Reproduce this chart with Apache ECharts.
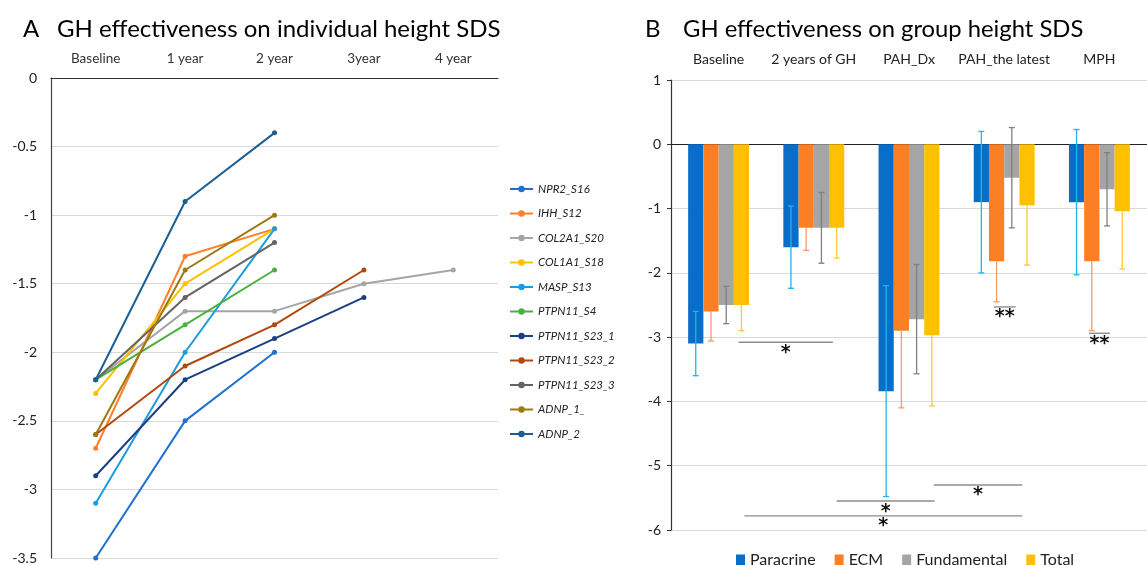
<!DOCTYPE html>
<html>
<head>
<meta charset="utf-8">
<title>GH effectiveness</title>
<script src="https://cdn.jsdelivr.net/npm/echarts@6/dist/echarts.min.js"></script>
<style>
html, body {
	margin: 0;
	padding: 0;
	background: #fff;
}
#main {
	width: 1147px;
	height: 565px;
}
</style>
</head>
<body>
<div id="main"></div>
<script type="text/javascript">
    // panel A: individual height SDS
    var yearList = ['Baseline', '1 year', '2 year', '3year', '4 year'];
    var npr2_s16 = [-3.5, -2.5, -2.0, null, null];
    var ihh_s12 = [-2.7, -1.3, -1.1, null, null];
    var col2a1_s20 = [-2.2, -1.7, -1.7, -1.5, -1.4];
    var col1a1_s18 = [-2.3, -1.5, -1.1, null, null];
    var masp_s13 = [-3.1, -2.0, -1.1, null, null];
    var ptpn11_s4 = [-2.2, -1.8, -1.4, null, null];
    var ptpn11_s23_1 = [-2.9, -2.2, -1.9, -1.6, null];
    var ptpn11_s23_2 = [-2.6, -2.1, -1.8, -1.4, null];
    var ptpn11_s23_3 = [-2.2, -1.6, -1.2, null, null];
    var adnp_1 = [-2.6, -1.4, -1.0, null, null];
    var adnp_2 = [-2.2, -0.9, -0.4, null, null];

    var lineNames = ['NPR2_S16', 'IHH_S12', 'COL2A1_S20', 'COL1A1_S18', 'MASP_S13', 'PTPN11_S4',
        'PTPN11_S23_1', 'PTPN11_S23_2', 'PTPN11_S23_3', 'ADNP_1_', 'ADNP_2'];
    var lineData = [npr2_s16, ihh_s12, col2a1_s20, col1a1_s18, masp_s13, ptpn11_s4,
        ptpn11_s23_1, ptpn11_s23_2, ptpn11_s23_3, adnp_1, adnp_2];
    var lineColors = ['#1F70CF', '#FF7F2A', '#A5A5A5', '#FFC000', '#1C9BE0', '#4CB040',
        '#1B3F80', '#B0490F', '#646464', '#A07810', '#1A5E93'];

    // panel B: group height SDS (mean and error)
    var groupList = ['Baseline', '2 years of GH', 'PAH_Dx', 'PAH_the latest', 'MPH'];
    var paracrine = [-3.1, -1.6, -3.84, -0.9, -0.9];
    var paracrineErr = [0.5, 0.64, 1.64, 1.1, 1.13];
    var ecm = [-2.6, -1.3, -2.9, -1.82, -1.82];
    var ecmErr = [0.46, 0.35, 1.2, 0.63, 1.08];
    var fundamental = [-2.5, -1.3, -2.72, -0.52, -0.7];
    var fundamentalErr = [0.29, 0.55, 0.85, 0.78, 0.57];
    var total = [-2.5, -1.3, -2.97, -0.95, -1.04];
    var totalErr = [0.4, 0.47, 1.1, 0.93, 0.9];

    // significance marks: [from, to, level, text] in category units
    var sigMarks = [
        [0.21, 1.2, -3.08, '*'],
        [2.89, 3.12, -2.53, '**'],
        [3.89, 4.11, -2.94, '**'],
        [1.24, 2.27, -5.55, '*'],
        [2.26, 3.19, -5.3, '*'],
        [0.27, 3.19, -5.78, '*']
    ];

    var fontName = 'Lato, "Open Sans", sans-serif';
    var barColors = ['#0A6DC8', '#FD7F23', '#A5A5A5', '#FFC000'];
    var errColors = ['#1EB4EE', '#F89A68', '#808080', '#FFC930'];

    var myChart = echarts.init(document.getElementById('main'));

    function errorRender(both, color) {
        return function (params, api) {
            var x = api.value(0);
            var v = api.value(1);
            var e = api.value(2);
            var top = api.coord([x, both ? v + e : v]);
            var bot = api.coord([x, v - e]);
            var style = {stroke: color, lineWidth: 1.3};
            var kids = [
                {type: 'line', shape: {x1: top[0], y1: top[1], x2: bot[0], y2: bot[1]}, style: style},
                {type: 'line', shape: {x1: bot[0] - 3, y1: bot[1], x2: bot[0] + 3, y2: bot[1]}, style: style}
            ];
            if (both) {
                kids.push({type: 'line', shape: {x1: top[0] - 3, y1: top[1], x2: top[0] + 3, y2: top[1]}, style: style});
            }
            return {type: 'group', children: kids};
        };
    }

    function errorData(vals, errs, k) {
        var out = [];
        for (var i = 0; i < vals.length; i++) {
            out.push([i + (k - 1.5) * 0.16, vals[i], errs[i]]);
        }
        return out;
    }

    function sigRender(params, api) {
        var a = api.coord([api.value(0), api.value(2)]);
        var b = api.coord([api.value(1), api.value(2)]);
        var txt = sigMarks[params.dataIndex][3];
        return {
            type: 'group',
            children: [
                {type: 'line', shape: {x1: a[0], y1: a[1], x2: b[0], y2: b[1]},
                    style: {stroke: '#8C8C8C', lineWidth: 1.4}},
                {type: 'text', x: (a[0] + b[0]) / 2, y: a[1] + 1,
                    style: {text: txt, fill: '#111', font: 'bold 19px "DejaVu Sans"',
                        align: 'center', verticalAlign: 'top'}}
            ]
        };
    }

    var series = [];
    for (var s = 0; s < lineNames.length; s++) {
        series.push({
            name: lineNames[s],
            type: 'line',
            xAxisIndex: 0,
            yAxisIndex: 0,
            data: lineData[s],
            symbol: 'circle',
            symbolSize: 5,
            connectNulls: false,
            itemStyle: {color: lineColors[s]},
            lineStyle: {color: lineColors[s], width: 2}
        });
    }

    var barNames = ['Paracrine', 'ECM', 'Fundamental', 'Total'];
    var barData = [paracrine, ecm, fundamental, total];
    var errData = [paracrineErr, ecmErr, fundamentalErr, totalErr];
    var errBoth = [true, false, true, false];
    for (var k = 0; k < 4; k++) {
        series.push({
            name: barNames[k],
            type: 'bar',
            xAxisIndex: 1,
            yAxisIndex: 1,
            data: barData[k],
            barWidth: '16%',
            barGap: '0%',
            itemStyle: {color: barColors[k]}
        });
    }
    for (var k = 0; k < 4; k++) {
        series.push({
            name: barNames[k] + ' error',
            type: 'custom',
            xAxisIndex: 3,
            yAxisIndex: 1,
            z: 5,
            renderItem: errorRender(errBoth[k], errColors[k]),
            data: errorData(barData[k], errData[k], k)
        });
    }
    series.push({
        name: 'significance',
        type: 'custom',
        xAxisIndex: 3,
        yAxisIndex: 1,
        z: 6,
        renderItem: sigRender,
        data: sigMarks.map(function (m) { return [m[0], m[1], m[2]]; })
    });

    var titleStyle = {fontSize: 24, fontWeight: 'normal', color: '#000', fontFamily: fontName};

    option = {
        animation: false,
        textStyle: {fontFamily: fontName},
        title: [
            {text: 'A', left: 23, top: 17, padding: 0, textStyle: titleStyle},
            {text: 'GH effectiveness on individual height SDS', left: 57, top: 17, padding: 0, textStyle: titleStyle},
            {text: 'B', left: 645, top: 17, padding: 0, textStyle: titleStyle},
            {text: 'GH effectiveness on group height SDS', left: 683, top: 17, padding: 0,
                textStyle: {fontSize: 23.8, fontWeight: 'normal', color: '#000', fontFamily: fontName}}
        ],
        legend: [{
            data: lineNames,
            orient: 'vertical',
            left: 504,
            top: 178,
            itemWidth: 23,
            itemHeight: 8,
            itemGap: 12.5,
            textStyle: {fontSize: 11.5, fontStyle: 'italic', color: '#222', fontFamily: fontName}
        }, {
            data: barNames,
            left: 731,
            top: 547,
            icon: 'rect',
            itemWidth: 9,
            itemHeight: 11,
            itemGap: 19,
            textStyle: {fontSize: 16, color: '#222', fontFamily: fontName}
        }],
        grid: [
            {left: 51, top: 78, width: 447, height: 490},
            {left: 671, top: 80, width: 483, height: 450}
        ],
        xAxis: [{
            type: 'category',
            gridIndex: 0,
            position: 'top',
            data: yearList,
            boundaryGap: true,
            axisLine: {onZero: false, lineStyle: {color: '#333', width: 1.2}},
            axisTick: {alignWithLabel: true, length: 4, lineStyle: {color: '#333'}},
            axisLabel: {interval: 0, fontSize: 13.5, color: '#333', margin: 12}
        }, {
            type: 'category',
            gridIndex: 1,
            position: 'top',
            data: groupList,
            boundaryGap: true,
            axisLine: {onZero: true, lineStyle: {color: '#222', width: 1.2}},
            axisTick: {alignWithLabel: true, length: 5, lineStyle: {color: '#222'}},
            axisLabel: {show: false}
        }, {
            type: 'category',
            gridIndex: 1,
            position: 'top',
            data: groupList,
            boundaryGap: true,
            axisLine: {show: false, onZero: false},
            axisTick: {show: false},
            axisLabel: {interval: 0, fontSize: 14, color: '#222', margin: 14}
        }, {
            type: 'value',
            gridIndex: 1,
            min: -0.5,
            max: 4.5,
            show: false
        }],
        yAxis: [{
            type: 'value',
            gridIndex: 0,
            min: -3.5,
            max: 0,
            interval: 0.5,
            axisLine: {show: true, onZero: false, lineStyle: {color: '#444', width: 1.2}},
            axisTick: {show: false},
            axisLabel: {fontSize: 14, color: '#222', margin: 14},
            splitLine: {lineStyle: {color: '#D9D9D9', width: 1.2}}
        }, {
            type: 'value',
            gridIndex: 1,
            min: -6,
            max: 1,
            interval: 1,
            axisLine: {show: true, onZero: false, lineStyle: {color: '#333', width: 1.2}},
            axisTick: {show: true, length: 4, lineStyle: {color: '#333'}},
            axisLabel: {fontSize: 14, color: '#222', margin: 10},
            splitLine: {lineStyle: {color: '#D9D9D9', width: 1.2}}
        }],
        series: series
    };

    myChart.setOption(option);
</script>
</body>
</html>
